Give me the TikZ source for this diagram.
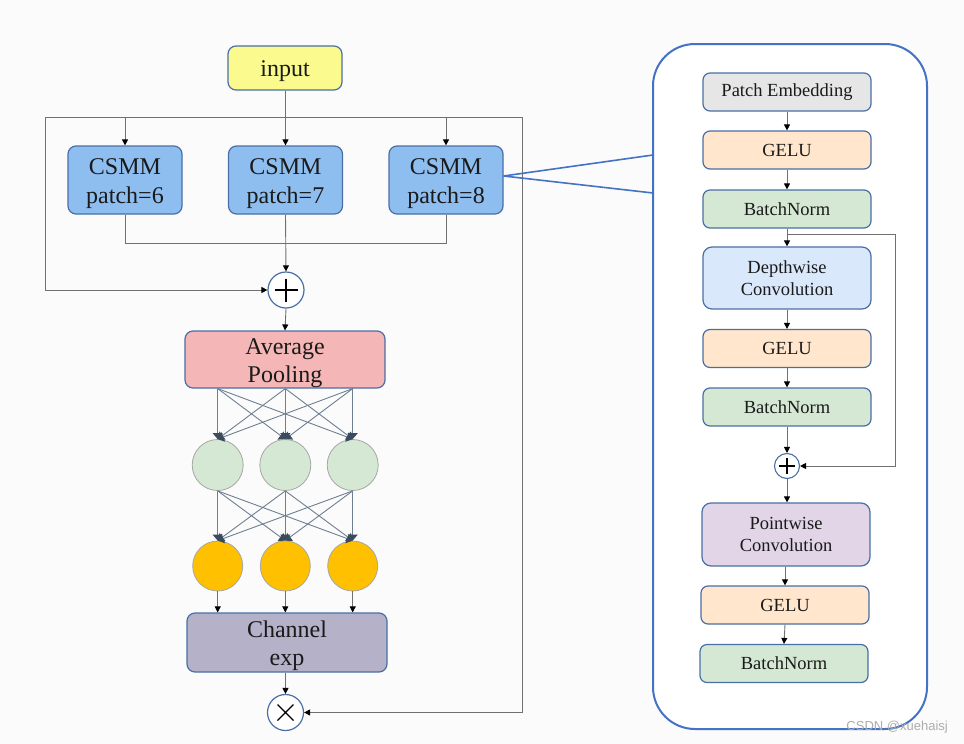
\documentclass[tikz,border=0pt]{standalone}
\usepackage{fontspec}
\setmainfont{Liberation Serif}
\newfontfamily\wmfont{Liberation Sans}
\usetikzlibrary{arrows.meta,calc}
\newcommand{\tstrut}{\rule{0pt}{23pt}}
\definecolor{bgc}{HTML}{FBFBFB}
\definecolor{boxline}{HTML}{4A6FA5}
\definecolor{inputc}{HTML}{FAFA8E}
\definecolor{csmmc}{HTML}{8EBEF0}
\definecolor{avgc}{HTML}{F4B6B6}
\definecolor{greenc}{HTML}{D5E8D4}
\definecolor{orangec}{HTML}{FFC000}
\definecolor{chanc}{HTML}{B4B1C9}
\definecolor{pec}{HTML}{E6E6E6}
\definecolor{geluc}{HTML}{FFE6CC}
\definecolor{dwc}{HTML}{DAE8FC}
\definecolor{pwc}{HTML}{E1D5E7}
\definecolor{panelc}{HTML}{4472C4}
\definecolor{linec}{HTML}{707070}
\definecolor{netline}{HTML}{6E7F91}
\definecolor{nethead}{HTML}{3B4B5E}
\definecolor{textc}{HTML}{1A1A1A}
\begin{document}
\begin{tikzpicture}[x=1pt,y=-1pt,
  box/.style={draw=boxline, line width=1.2pt, rounded corners=8pt, align=center, inner sep=0pt, text=textc},
  lbox/.style={box, font=\fontsize{24}{28.5}\selectfont},
  rbox/.style={box, font=\fontsize{18.5}{22}\selectfont, minimum width=168pt, minimum height=38pt, rounded corners=7pt},
  opnode/.style={circle, draw=boxline, line width=1.2pt, fill=white, inner sep=0pt},
  neuron/.style={circle, draw=gray!70, line width=0.8pt, minimum size=51pt, inner sep=0pt},
  conn/.style={draw=linec, line width=0.9pt},
  arr/.style={conn, -{Triangle[length=6pt,width=6pt,color=black]}},
  netarr/.style={draw=netline, line width=0.9pt, -{Triangle[length=6pt,width=10pt,color=nethead]}},
  zoomline/.style={draw=panelc, line width=1.6pt}
]
\useasboundingbox (0,0) rectangle (964,744);
\fill[bgc] (0,0) rectangle (964,744);

% ---------- left part ----------
\node[lbox, fill=inputc, minimum width=114pt, minimum height=44pt] (input) at (285,68) {\tstrut input};
\node[lbox, fill=csmmc, minimum width=114pt, minimum height=68pt] (c1) at (125,180) {\tstrut CSMM\\patch=6};
\node[lbox, fill=csmmc, minimum width=114pt, minimum height=68pt] (c2) at (285.5,180) {\tstrut CSMM\\patch=7};
\node[lbox, fill=csmmc, minimum width=114pt, minimum height=68pt] (c3) at (446,180) {\tstrut CSMM\\patch=8};
\node[opnode, minimum size=36pt] (plus) at (286,290) {};
\draw[line width=1.2pt] ($(plus.center)+(-11.5,0)$) -- ($(plus.center)+(11.5,0)$)
                        ($(plus.center)+(0,-11.5)$) -- ($(plus.center)+(0,11.5)$);
\node[lbox, fill=avgc, minimum width=200pt, minimum height=57pt] (ap) at (285,359.5) {\tstrut Average\\Pooling};
\node[neuron, fill=greenc] (g1) at (217.7,465) {};
\node[neuron, fill=greenc] (g2) at (285.3,465) {};
\node[neuron, fill=greenc] (g3) at (352.7,465) {};
\node[neuron, fill=orangec, minimum size=50pt] (o1) at (217.7,566) {};
\node[neuron, fill=orangec, minimum size=50pt] (o2) at (285.3,566) {};
\node[neuron, fill=orangec, minimum size=50pt] (o3) at (352.7,566) {};
\node[lbox, fill=chanc, minimum width=200pt, minimum height=59pt] (ce) at (287,642.5) {\tstrut Channel\\exp};
\node[opnode, minimum size=36pt] (times) at (285.5,712.5) {};
\draw[line width=1.2pt] ($(times.center)+(-8,-8)$) -- ($(times.center)+(8,8)$)
                        ($(times.center)+(-8,8)$) -- ($(times.center)+(8,-8)$);

\coordinate (loopL) at (45.5,117);
\coordinate (loopR) at (522,117);
\coordinate (merge) at (0,243);

% input splits
\draw[conn] (input.south) -- (input.south |- loopL);
\draw[conn] (loopL) -- (loopR);
\draw[arr] (c1 |- loopL) -- (c1.north);
\draw[arr] (c2 |- loopL) -- (c2.north);
\draw[arr] (c3 |- loopL) -- (c3.north);
% merge
\draw[conn] (c1.south) -- (c1 |- merge) -- (c3 |- merge) -- (c3.south);
\draw[arr] (c2.south) -- (plus.north);
% residual
\draw[arr] (loopL) -- (loopL |- plus) -- (plus.west);
\draw[arr] (plus.south) -- (ap.north);
% neural net
\foreach \i in {1,2,3}{
  \foreach \j in {1,2,3}{
    \draw[netarr] (ap.south -| g\i) -- (g\j.north);
    \draw[netarr] (g\i.south) -- (o\j.north);
  }
  \draw[arr] (o\i.south) -- (ce.north -| o\i);
}
\draw[arr] (ce.south -| times) -- (times.north);
\draw[arr] (loopR) -- (loopR |- times) -- (times.east);

% ---------- right panel ----------
\node[draw=panelc, line width=2pt, fill=white, rounded corners=42pt, minimum width=274pt, minimum height=685pt, inner sep=0pt] (panel) at (790,386.5) {};
\coordinate (zt) at (653,155);
\coordinate (zb) at (653,193);
\draw[zoomline] ($(c3.east)+(0,-4)$) -- (zt);
\draw[zoomline] ($(c3.east)+(0,-4)$) -- (zb);

\node[rbox, fill=pec] (pe) at (787,92) {Patch Embedding};
\node[rbox, fill=geluc] (ge1) at (787,150) {GELU};
\node[rbox, fill=greenc] (bn1) at (787,209) {BatchNorm};
\node[rbox, fill=dwc, minimum height=62pt, rounded corners=9pt] (dw) at (787,278) {Depthwise\\Convolution};
\node[rbox, fill=geluc] (ge2) at (787,348.5) {GELU};
\node[rbox, fill=greenc] (bn2) at (787,407) {BatchNorm};
\node[opnode, minimum size=25pt, line width=1.1pt] (p2) at (787,466) {};
\draw[line width=1.1pt] ($(p2.center)+(-8,0)$) -- ($(p2.center)+(8,0)$)
                        ($(p2.center)+(0,-8)$) -- ($(p2.center)+(0,8)$);
\node[rbox, fill=pwc, minimum height=63pt, rounded corners=9pt] (pw) at (786,534.5) {Pointwise\\Convolution};
\node[rbox, fill=geluc] (ge3) at (785,605) {GELU};
\node[rbox, fill=greenc] (bn3) at (784,663.5) {BatchNorm};

\draw[arr] (pe.south) -- (ge1.north);
\draw[arr] (ge1.south) -- (bn1.north);
\draw[arr] (bn1.south) -- (dw.north);
\draw[arr] (dw.south) -- (ge2.north);
\draw[arr] (ge2.south) -- (bn2.north);
\draw[arr] (bn2.south) -- (p2.north);
\draw[arr] (p2.south) -- (pw.north -| p2);
\draw[arr] (pw.south -| ge3) -- (ge3.north);
\draw[arr] (ge3.south) -- (bn3.north);
\coordinate (split) at (787,234);
\coordinate (skipR) at (895,234);
\draw[arr] (split) -- (skipR) -- (skipR |- p2) -- (p2.east);

\node[font=\wmfont\fontsize{13}{13}\selectfont, text=gray!65, anchor=east, inner sep=0pt] (wm) at (948,727) {CSDN @xuehaisj};
\end{tikzpicture}
\end{document}
